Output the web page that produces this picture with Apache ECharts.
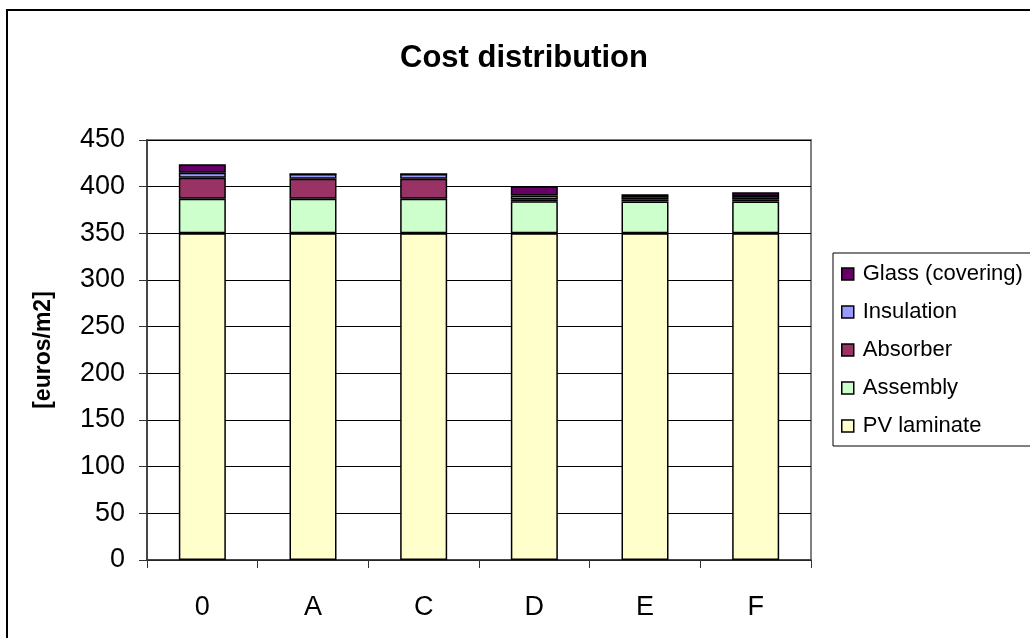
<!DOCTYPE html>
<html>
<head>
<meta charset="utf-8">
<script src="https://cdn.jsdelivr.net/npm/echarts@6/dist/echarts.min.js"></script>
<style>html,body{margin:0;padding:0;background:#fff}#c{width:1030px;height:638px}</style>
</head>
<body>
<div id="c"></div>
<script>
const categories = ['0', 'A', 'C', 'D', 'E', 'F'];
const pvLaminate = [350, 350, 350, 350, 350, 350];
const assembly = [37, 37, 37, 34.5, 34, 34];
const absorber = [22.5, 21.5, 21.5, 2, 2.5, 2.5];
const insulation = [5.5, 5, 5, 4, 3.5, 3.5];
const glass = [9, 0, 0, 10, 2, 4];
const yTicks = { min: 0, max: 450, interval: 50 };

const FONT = 'Liberation Sans, Arial, sans-serif';
const chart = echarts.init(document.getElementById('c'), null, { renderer: 'canvas' });

function s(name, data, color) {
  return {
    name, type: 'bar', stack: 'total', data, barWidth: 47,
    itemStyle: { color, borderColor: '#000', borderWidth: 1.5 },
    emphasis: { disabled: true }
  };
}

chart.setOption({
  animation: false,
  backgroundColor: '#fff',
  title: {
    text: 'Cost distribution', left: 395, top: 38,
    textStyle: { fontFamily: FONT, fontSize: 31, fontWeight: 'bold', color: '#000' }
  },
  graphic: [{
    type: 'rect', shape: { x: 7, y: 10, width: 1100, height: 1000 },
    style: { fill: 'none', stroke: '#000', lineWidth: 2 }, silent: true
  }],
  legend: {
    orient: 'vertical', left: 833, top: 253,
    data: ['Glass (covering)', 'Insulation', 'Absorber', 'Assembly', 'PV laminate'],
    borderColor: '#000', borderWidth: 1,
    padding: [9.5, 8, 8.5, 8],
    itemWidth: 12, itemHeight: 12, itemGap: 15, icon: 'rect',
    itemStyle: { borderColor: '#000', borderWidth: 1.5 },
    textStyle: { fontFamily: FONT, fontSize: 22, color: '#000', lineHeight: 23, padding: [0, 0, 0, 4] }
  },
  grid: { left: 147, right: 219, top: 140, bottom: 78, show: true, borderColor: '#808080', borderWidth: 2 },
  xAxis: {
    type: 'category', data: categories, boundaryGap: true,
    axisLine: { lineStyle: { color: '#333', width: 1.5 } },
    axisTick: { show: true, alignWithLabel: false, length: 8, lineStyle: { color: '#333' } },
    axisLabel: { fontFamily: FONT, fontSize: 27, color: '#000', margin: 34 }
  },
  yAxis: {
    type: 'value', min: yTicks.min, max: yTicks.max, interval: yTicks.interval,
    name: '[euros/m2]', nameLocation: 'middle', nameRotate: 90, nameGap: 92,
    nameTextStyle: { fontFamily: FONT, fontSize: 23, fontWeight: 'bold', color: '#000' },
    axisLine: { show: true, lineStyle: { color: '#333', width: 1.5 } },
    axisTick: { show: true, length: 8, lineStyle: { color: '#333' } },
    axisLabel: { fontFamily: FONT, fontSize: 27, color: '#000', margin: 22 },
    splitLine: { show: true, lineStyle: { color: '#000', width: 1 } }
  },
  series: [
    s('PV laminate', pvLaminate, '#FFFFCC'),
    s('Assembly', assembly, '#CCFFCC'),
    s('Absorber', absorber, '#993366'),
    s('Insulation', insulation, '#9999FF'),
    s('Glass (covering)', glass, '#660066')
  ]
});
</script>
</body>
</html>
